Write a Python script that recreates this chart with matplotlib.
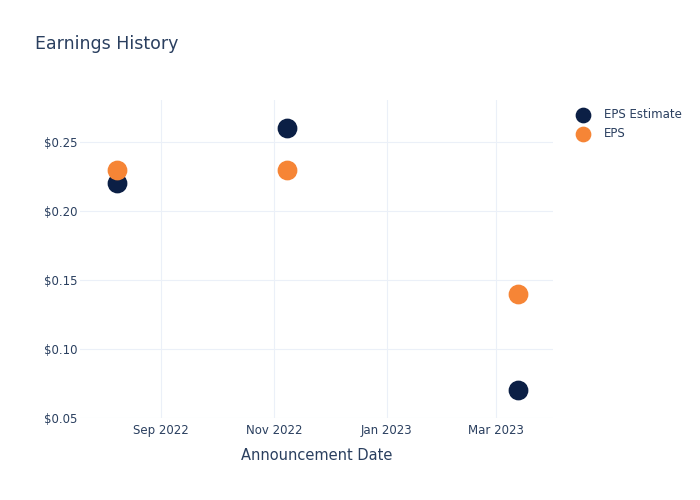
import matplotlib.pyplot as plt
import matplotlib.dates as mdates
from matplotlib.ticker import FuncFormatter
from datetime import datetime

# Earnings data
dates = [datetime(2022, 8, 8), datetime(2022, 11, 8), datetime(2023, 3, 13)]
eps_estimate = [0.22, 0.26, 0.07]
eps_actual = [0.23, 0.23, 0.14]

text_color = "#2a3f5f"
grid_color = "#ebf0f8"

fig = plt.figure(figsize=(7, 5), dpi=100)
ax = fig.add_axes([80 / 700, 82 / 500, 473 / 700, 318 / 500])

ax.scatter(dates, eps_estimate, s=175, color="#0b1f45", label="EPS Estimate", zorder=3)
ax.scatter(dates, eps_actual, s=175, color="#f68536", label="EPS", zorder=4)

# Axis ranges
ax.set_xlim(datetime(2022, 7, 19), datetime(2023, 4, 1))
ax.set_ylim(0.05, 0.2804)

ax.xaxis.set_major_locator(mdates.MonthLocator(bymonth=[1, 3, 5, 7, 9, 11]))
ax.xaxis.set_major_formatter(mdates.DateFormatter("%b %Y"))
ax.set_yticks([0.05, 0.10, 0.15, 0.20, 0.25])
ax.yaxis.set_major_formatter(FuncFormatter(lambda v, p: f"${v:.2f}"))

ax.grid(True, color=grid_color, linewidth=0.8)
ax.set_axisbelow(True)
for spine in ax.spines.values():
    spine.set_visible(False)
ax.tick_params(length=0, colors=text_color, labelsize=8.5)
ax.tick_params(axis="x", pad=4)
ax.tick_params(axis="y", pad=2)

ax.set_xlabel("Announcement Date", color=text_color, fontsize=10.5, labelpad=8)

fig.text(35 / 700, 1 - 44 / 500, "Earnings History", color=text_color, fontsize=12.5, va="center")

leg = fig.legend(loc="upper left", bbox_to_anchor=(561 / 700, 1 - 97 / 500), frameon=False,
                 fontsize=8.5, labelcolor=text_color, handletextpad=0.75, labelspacing=0.55,
                 markerscale=0.78)

fig.savefig("out.png", dpi=100)
